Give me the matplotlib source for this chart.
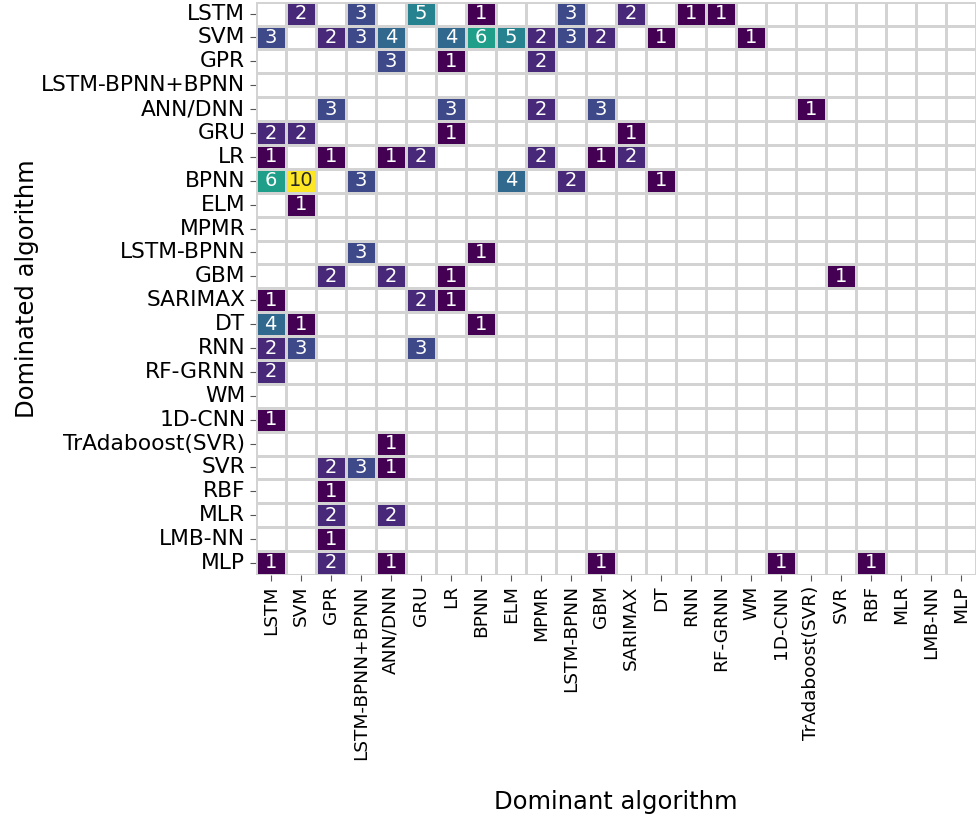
import numpy as np
import pandas as pd
import matplotlib
matplotlib.use("Agg")
import matplotlib.pyplot as plt
import seaborn as sns

algorithms = ["LSTM", "SVM", "GPR", "LSTM-BPNN+BPNN", "ANN/DNN", "GRU", "LR", "BPNN",
              "ELM", "MPMR", "LSTM-BPNN", "GBM", "SARIMAX", "DT", "RNN", "RF-GRNN", "WM",
              "1D-CNN", "TrAdaboost(SVR)", "SVR", "RBF", "MLR", "LMB-NN", "MLP"]

# rows: dominated algorithm, columns: dominant algorithm, 0 = no comparison
counts = [
    [0, 2, 0, 3, 0, 5, 0, 1, 0, 0, 3, 0, 2, 0, 1, 1, 0, 0, 0, 0, 0, 0, 0, 0],
    [3, 0, 2, 3, 4, 0, 4, 6, 5, 2, 3, 2, 0, 1, 0, 0, 1, 0, 0, 0, 0, 0, 0, 0],
    [0, 0, 0, 0, 3, 0, 1, 0, 0, 2, 0, 0, 0, 0, 0, 0, 0, 0, 0, 0, 0, 0, 0, 0],
    [0, 0, 0, 0, 0, 0, 0, 0, 0, 0, 0, 0, 0, 0, 0, 0, 0, 0, 0, 0, 0, 0, 0, 0],
    [0, 0, 3, 0, 0, 0, 3, 0, 0, 2, 0, 3, 0, 0, 0, 0, 0, 0, 1, 0, 0, 0, 0, 0],
    [2, 2, 0, 0, 0, 0, 1, 0, 0, 0, 0, 0, 1, 0, 0, 0, 0, 0, 0, 0, 0, 0, 0, 0],
    [1, 0, 1, 0, 1, 2, 0, 0, 0, 2, 0, 1, 2, 0, 0, 0, 0, 0, 0, 0, 0, 0, 0, 0],
    [6, 10, 0, 3, 0, 0, 0, 0, 4, 0, 2, 0, 0, 1, 0, 0, 0, 0, 0, 0, 0, 0, 0, 0],
    [0, 1, 0, 0, 0, 0, 0, 0, 0, 0, 0, 0, 0, 0, 0, 0, 0, 0, 0, 0, 0, 0, 0, 0],
    [0, 0, 0, 0, 0, 0, 0, 0, 0, 0, 0, 0, 0, 0, 0, 0, 0, 0, 0, 0, 0, 0, 0, 0],
    [0, 0, 0, 3, 0, 0, 0, 1, 0, 0, 0, 0, 0, 0, 0, 0, 0, 0, 0, 0, 0, 0, 0, 0],
    [0, 0, 2, 0, 2, 0, 1, 0, 0, 0, 0, 0, 0, 0, 0, 0, 0, 0, 0, 1, 0, 0, 0, 0],
    [1, 0, 0, 0, 0, 2, 1, 0, 0, 0, 0, 0, 0, 0, 0, 0, 0, 0, 0, 0, 0, 0, 0, 0],
    [4, 1, 0, 0, 0, 0, 0, 1, 0, 0, 0, 0, 0, 0, 0, 0, 0, 0, 0, 0, 0, 0, 0, 0],
    [2, 3, 0, 0, 0, 3, 0, 0, 0, 0, 0, 0, 0, 0, 0, 0, 0, 0, 0, 0, 0, 0, 0, 0],
    [2, 0, 0, 0, 0, 0, 0, 0, 0, 0, 0, 0, 0, 0, 0, 0, 0, 0, 0, 0, 0, 0, 0, 0],
    [0, 0, 0, 0, 0, 0, 0, 0, 0, 0, 0, 0, 0, 0, 0, 0, 0, 0, 0, 0, 0, 0, 0, 0],
    [1, 0, 0, 0, 0, 0, 0, 0, 0, 0, 0, 0, 0, 0, 0, 0, 0, 0, 0, 0, 0, 0, 0, 0],
    [0, 0, 0, 0, 1, 0, 0, 0, 0, 0, 0, 0, 0, 0, 0, 0, 0, 0, 0, 0, 0, 0, 0, 0],
    [0, 0, 2, 3, 1, 0, 0, 0, 0, 0, 0, 0, 0, 0, 0, 0, 0, 0, 0, 0, 0, 0, 0, 0],
    [0, 0, 1, 0, 0, 0, 0, 0, 0, 0, 0, 0, 0, 0, 0, 0, 0, 0, 0, 0, 0, 0, 0, 0],
    [0, 0, 2, 0, 2, 0, 0, 0, 0, 0, 0, 0, 0, 0, 0, 0, 0, 0, 0, 0, 0, 0, 0, 0],
    [0, 0, 1, 0, 0, 0, 0, 0, 0, 0, 0, 0, 0, 0, 0, 0, 0, 0, 0, 0, 0, 0, 0, 0],
    [1, 0, 2, 0, 1, 0, 0, 0, 0, 0, 0, 1, 0, 0, 0, 0, 0, 1, 0, 0, 1, 0, 0, 0],
]

df = pd.DataFrame(counts, index=algorithms, columns=algorithms).replace(0, np.nan)

fig = plt.figure(figsize=(9.76, 8.19), dpi=100)
ax = fig.add_axes([0.262, 0.298, 0.738, 0.70])

sns.heatmap(df, ax=ax, cmap="viridis", vmin=1, vmax=10, annot=True, fmt=".0f",
            annot_kws={"fontsize": 14}, linewidths=1.0, linecolor="lightgray",
            cbar=False, square=False)

# light grid on cell borders so empty cells show too
n = len(algorithms)
ax.set_xticks(np.arange(n + 1), minor=True)
ax.set_yticks(np.arange(n + 1), minor=True)
ax.grid(which="minor", color="lightgray", linewidth=1.0)
ax.tick_params(which="minor", length=0)
ax.set_axisbelow(True)
ax.set_facecolor("white")

ax.set_xticks(np.arange(n) + 0.5)
ax.set_xticklabels(algorithms, rotation=90, fontsize=13.3)
ax.set_yticks(np.arange(n) + 0.5)
ax.set_yticklabels(algorithms, rotation=0, fontsize=15.7)
ax.tick_params(which="major", length=4, color="#555555")
ax.set_xlabel("Dominant algorithm", fontsize=17.5)
ax.set_ylabel("Dominated algorithm", fontsize=17.5)
ax.xaxis.set_label_coords(0.5, -0.375)
ax.yaxis.set_label_coords(-0.301, 0.5)
for s in ax.spines.values():
    s.set_visible(False)

fig.savefig("out.png", dpi=100)
